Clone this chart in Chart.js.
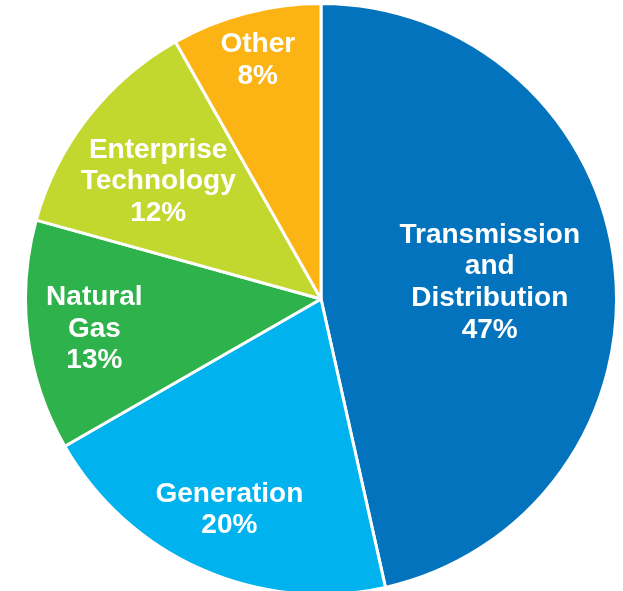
<!DOCTYPE html>
<html>
<head>
<meta charset="utf-8">
<title>Segment Mix</title>
<script src="https://cdn.jsdelivr.net/npm/chart.js@4/dist/chart.umd.min.js"></script>
<style>
    html, body {
        margin: 0;
        padding: 0;
        width: 623px;
        height: 591px;
        overflow: hidden;
        background: #ffffff;
    }
    #mixChart {
        position: absolute;
        left: 21px;
        top: -1px;
    }
</style>
</head>
<body>
<canvas id="mixChart" width="600" height="600"></canvas>
<script>
const segments = ['Transmission and Distribution', 'Generation', 'Natural Gas', 'Enterprise Technology', 'Other'];
// slice sizes as drawn and the rounded figures printed on them
const shares = [46.5, 20.2, 12.6, 12.5, 8.2];
const pctLabels = ['47%', '20%', '13%', '12%', '8%'];
const labelLines = [
    ['Transmission', 'and', 'Distribution'],
    ['Generation'],
    ['Natural', 'Gas'],
    ['Enterprise', 'Technology'],
    ['Other']
];
const sliceColors = ['#0273bc', '#00b2ee', '#2eb24b', '#c2d82e', '#fcb414'];

// label block centres, as a fraction of the radius from the pie centre
const labelOffsets = [
    [0.571, -0.056],
    [-0.310, 0.713],
    [-0.767, 0.102],
    [-0.551, -0.398],
    [-0.214, -0.807]
];

document.addEventListener('DOMContentLoaded', () => {
    const ctx = document.getElementById('mixChart').getContext('2d');

    const sliceLabels = {
        id: 'sliceLabels',
        afterDatasetsDraw(chart) {
            const meta = chart.getDatasetMeta(0);
            const c = chart.ctx;
            const lineHeight = 31.6;
            c.save();
            c.fillStyle = '#ffffff';
            c.font = 'bold 28px "Liberation Sans", Arial, sans-serif';
            c.textAlign = 'center';
            c.textBaseline = 'middle';
            meta.data.forEach((arc, i) => {
                const r = arc.outerRadius;
                const cx = arc.x + labelOffsets[i][0] * r;
                const cy = arc.y + labelOffsets[i][1] * r;
                const lines = labelLines[i].concat([pctLabels[i]]);
                const top = cy - (lines.length - 1) * lineHeight / 2;
                lines.forEach((line, j) => {
                    c.fillText(line, cx, top + j * lineHeight);
                });
            });
            c.restore();
        }
    };

    new Chart(ctx, {
        type: 'pie',
        data: {
            labels: segments,
            datasets: [{
                data: shares,
                backgroundColor: sliceColors,
                borderColor: '#ffffff',
                borderWidth: 3
            }]
        },
        options: {
            responsive: false,
            animation: false,
            devicePixelRatio: 1,
            layout: {
                padding: 3
            },
            plugins: {
                legend: {
                    display: false
                },
                tooltip: {
                    enabled: false
                }
            }
        },
        plugins: [sliceLabels]
    });
});
</script>
</body>
</html>
